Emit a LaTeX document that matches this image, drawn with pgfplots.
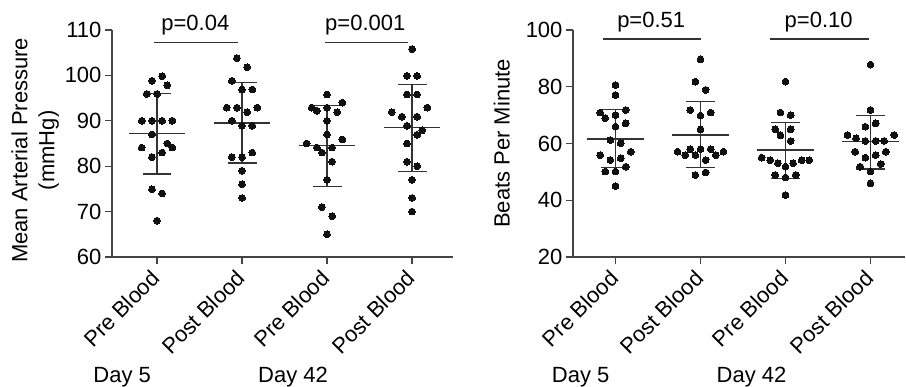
\documentclass[border=0pt]{standalone}
\usepackage{fontspec}
\setmainfont{Liberation Sans}
\usepackage{pgfplots}
\pgfplotsset{compat=1.18}
\definecolor{dotc}{HTML}{111111}
\definecolor{linec}{HTML}{333333}
\definecolor{axc}{HTML}{444444}
\newcommand\bigf{\fontsize{22}{27}\selectfont}
\pgfplotsset{
 panel/.style={
  scale only axis, height=227pt, axis lines*=left,
  axis line style={axc, line width=1.2pt},
  tick align=outside, major tick length=7pt, tick style={axc, line width=1.2pt},
  xtick={0,1,2,3}, xticklabels={Pre Blood, Post Blood, Pre Blood, Post Blood},
  xticklabel style={xshift=-7pt, rotate=45, anchor=north east, font=\bigf, inner sep=1pt},
  xticklabel shift=3pt,
  yticklabel style={font=\bigf},
  /pgf/number format/assume math mode=true,
  ylabel style={font=\bigf, align=center, anchor=south},
  clip=false,
 },
 dots/.style={only marks, mark=*, mark size=3.4pt, mark options={fill=dotc, draw=dotc, line width=0pt}},
 stat/.style={linec, line width=1.2pt, unbounded coords=jump, mark=none},
 pline/.style={linec, line width=1.2pt, mark=none},
}
\begin{document}
\begin{tikzpicture}
\path[use as bounding box] (-112pt,-130pt) rectangle (794pt,257pt);
% ---------------- Left panel ----------------
\begin{axis}[panel, width=340.85pt, xmin=-0.53, xmax=3.48, ymin=60, ymax=110,
  ytick={60,70,80,90,100,110},
  ylabel={Mean Arterial Pressure\\(mmHg)},
  ylabel style={at={(axis description cs:-0.145,0.47)}}]
% Day 5 Pre Blood
\addplot[dots] table {
x y
-0.06 98.8
0.06 99.8
0.12 97.8
-0.12 95.9
0 95.9
-0.18 90
-0.06 90
0.06 90
0.18 90
-0.06 87
-0.18 84.1
0.12 85
0.06 83
0.18 84.1
-0.06 82
-0.06 74.9
0.06 74
0 68
};
% Day 5 Post Blood
\addplot[dots] table {
x y
0.94 103.8
1.06 101.8
0.88 98.8
1 96.9
1.12 96.9
0.82 92.9
0.94 92.9
1.18 92.9
1.06 91.9
0.88 90
1 88.9
1.12 88.9
0.88 82
1 82
1.12 83
1 79
1 76
1 73
};
% Day 42 Pre Blood
\addplot[dots] table {
x y
2 95.8
2.18 94
1.82 92.9
1.88 92.2
2 92.9
2.12 91.9
2 90
2 87
2.18 85.9
1.76 85
1.88 84.1
1.94 83
2.06 84.1
2.06 81
2 77
1.94 71
2.06 69
2 65
};
% Day 42 Post Blood
\addplot[dots] table {
x y
3 105.8
2.94 99.9
3.06 99.9
2.94 95.8
3.06 95.8
2.76 91.9
2.88 90.9
3.06 90.9
3.18 92.9
2.94 88.9
3.12 87.9
3.06 86.9
2.94 85
2.94 81
3.06 80
3 77
3 73
3 70
};
% mean and SD
\addplot[stat] table {
x y
-0.33 87.2
0.33 87.2
nan nan
0 78.3
0 96.1
nan nan
-0.17 96.1
0.17 96.1
nan nan
-0.17 78.3
0.17 78.3
nan nan
0.67 89.5
1.33 89.5
nan nan
1 80.7
1 98.4
nan nan
0.83 98.4
1.17 98.4
nan nan
0.83 80.7
1.17 80.7
nan nan
1.67 84.5
2.33 84.5
nan nan
2 75.5
2 93.4
nan nan
1.83 93.4
2.17 93.4
nan nan
1.83 75.5
2.17 75.5
nan nan
2.67 88.5
3.33 88.5
nan nan
3 78.8
3 98.0
nan nan
2.83 98.0
3.17 98.0
nan nan
2.83 78.8
3.17 78.8
};
\addplot[pline] coordinates {(-0.03,107.3) (0.95,107.3)};
\addplot[pline] coordinates {(1.976,107.3) (2.957,107.3)};
\node[font=\bigf, anchor=base] at (axis cs:0.45,109.85) {p=0.04};
\node[font=\bigf, anchor=base] at (axis cs:2.45,109.85) {p=0.001};
\node[font=\bigf, anchor=base] at (axis cs:-0.41,32.4) {Day 5};
\node[font=\bigf, anchor=base] at (axis cs:1.6,32.4) {Day 42};
\end{axis}
% ---------------- Right panel ----------------
\begin{axis}[panel, at={(461pt,0pt)}, width=331.5pt, xmin=-0.5, xmax=3.4, ymin=20, ymax=100,
  ytick={20,40,60,80,100},
  ylabel={Beats Per Minute},
  ylabel style={at={(axis description cs:-0.18,0.5)}}]
% Day 5 Pre Blood
\addplot[dots] table {
x y
0 80.6
0 77.1
-0.18 70.9
-0.12 68.9
0 70.0
0.12 71.8
0 65.9
0.12 67.1
-0.06 61.2
0.06 60.1
-0.18 55.9
0.18 57.1
0.06 54.8
-0.06 54.2
0.12 51.8
-0.12 50.1
0 50.1
0 45.0
};
% Day 5 Post Blood
\addplot[dots] table {
x y
1 89.7
0.94 81.8
1.06 78.9
0.88 71.8
1.12 70.9
1 69.8
1 65.0
0.73 57.1
0.88 58.0
1 58.0
1.12 58.0
1.27 57.1
0.82 55.9
0.94 55.9
1.18 55.9
1.06 54.2
0.94 48.9
1.06 49.8
};
% Day 42 Pre Blood
\addplot[dots] table {
x y
2 81.8
1.94 70.9
2.06 70.0
1.88 65.0
1.94 62.9
2.06 65.0
2.06 60.9
1.72 55.0
1.82 54.1
1.91 53.0
2 51.8
2.09 53.0
2.19 54.1
2.28 54.1
1.88 48.9
2 48.0
2.12 48.9
2 41.8
};
% Day 42 Post Blood
\addplot[dots] table {
x y
3 87.8
3 71.8
2.94 65.9
3.06 67.1
2.73 63.0
2.83 61.8
2.94 60.9
3.06 60.9
3.16 60.9
3.28 63.0
2.82 57.1
2.94 55.0
3.06 55.9
3.18 57.1
2.88 51.8
3.12 52.8
3 50.1
3 46.0
};
% mean and SD
\addplot[stat] table {
x y
-0.33 61.6
0.33 61.6
nan nan
0 51.5
0 72.0
nan nan
-0.17 72.0
0.17 72.0
nan nan
-0.17 51.5
0.17 51.5
nan nan
0.67 63.0
1.33 63.0
nan nan
1 51.6
1 74.7
nan nan
0.83 74.7
1.17 74.7
nan nan
0.83 51.6
1.17 51.6
nan nan
1.67 57.7
2.33 57.7
nan nan
2 47.7
2 67.5
nan nan
1.83 67.5
2.17 67.5
nan nan
1.83 47.7
2.17 47.7
nan nan
2.67 60.6
3.33 60.6
nan nan
3 51.0
3 69.8
nan nan
2.83 69.8
3.17 69.8
nan nan
2.83 51.0
3.17 51.0
};
\addplot[pline] coordinates {(-0.15,96.8) (1.0,96.8)};
\addplot[pline] coordinates {(1.82,96.8) (2.98,96.8)};
\node[font=\bigf, anchor=base] at (axis cs:0.42,100.95) {p=0.51};
\node[font=\bigf, anchor=base] at (axis cs:2.39,100.95) {p=0.10};
\node[font=\bigf, anchor=base] at (axis cs:-0.41,-24.2) {Day 5};
\node[font=\bigf, anchor=base] at (axis cs:1.6,-24.2) {Day 42};
\end{axis}
\end{tikzpicture}
\end{document}
